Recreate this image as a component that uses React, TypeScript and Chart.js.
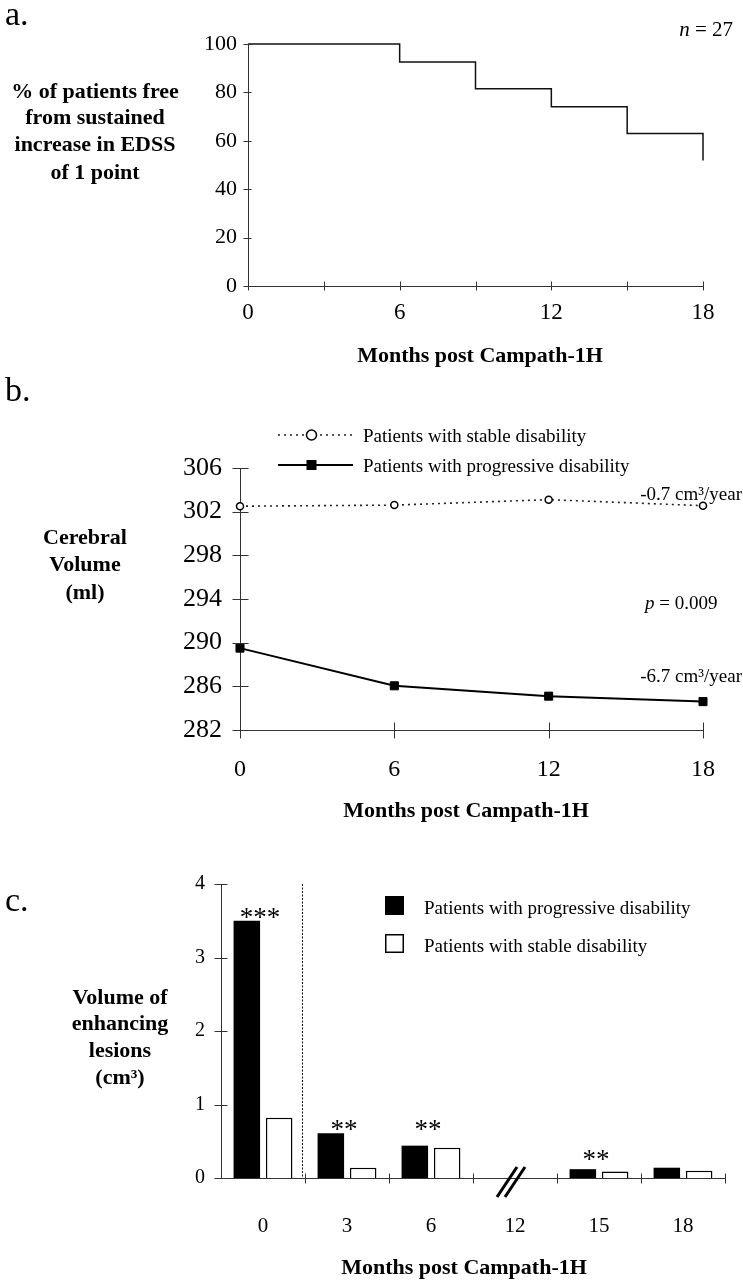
import React, { useEffect, useRef } from 'react';
import { Chart, registerables } from 'chart.js';

Chart.register(...registerables);

const SERIF = '"Liberation Serif", "Times New Roman", Times, serif';

// ---------- Panel a: Kaplan-Meier (% free from sustained EDSS increase) ----------
const kmMonths = [0, 6, 9, 12, 15, 18];
const kmPercentFree = [100, 92.6, 81.5, 74.1, 63.0, 51.9];
const kmYTicks = [0, 20, 40, 60, 80, 100];
const kmXTickStep = 3;
const kmXLabelStep = 6;

// ---------- Panel b: cerebral volume ----------
const volMonths = [0, 6, 12, 18];
const stableVolume = [302.5, 302.6, 303.1, 302.55];
const progressiveVolume = [289.5, 286.05, 285.1, 284.6];
const volYTicks = [282, 286, 290, 294, 298, 302, 306];
const volXTicks = [0, 6, 12, 18];

// ---------- Panel c: volume of enhancing lesions ----------
const lesionMonths = ['0', '3', '6', '12', '15', '18'];
const progressiveLesion = [3.5, 0.61, 0.44, null, 0.12, 0.14];
const stableLesion = [0.82, 0.14, 0.41, null, 0.09, 0.1];
const lesionStars = ['***', '**', '**', '', '**', ''];
const lesionStarLevels = [3.62, 0.74, 0.74, null, 0.33, null];
const lesionYTicks = [0, 1, 2, 3, 4];
const breakMonth = '12';

const AXIS = '#333';

// Tick marks that cross the axis lines
const crossTicks = {
  id: 'crossTicks',
  afterDraw(chart: any, _a: any, opts: any) {
    const { ctx, chartArea } = chart;
    const x = chart.scales.x;
    const y = chart.scales.y;
    ctx.save();
    ctx.strokeStyle = opts.color || AXIS;
    ctx.lineWidth = 1;
    const ax = Math.round(chartArea.left) + 0.5;
    const ay = Math.round(chartArea.bottom) + 0.5;
    ctx.beginPath();
    y.ticks.forEach((_t: any, i: number) => {
      const py = Math.round(y.getPixelForTick(i)) + 0.5;
      ctx.moveTo(ax - opts.yOut, py);
      ctx.lineTo(ax + opts.yIn, py);
    });
    if (opts.categoryBoundaries) {
      const n = x.ticks.length;
      for (let i = 1; i <= n; i++) {
        const px = Math.round(x.left + (i * x.width) / n) + 0.5;
        ctx.moveTo(px, ay - opts.xIn);
        ctx.lineTo(px, ay + opts.xOut);
      }
    } else {
      x.ticks.forEach((_t: any, i: number) => {
        const px = Math.round(x.getPixelForTick(i)) + 0.5;
        ctx.moveTo(px, ay - opts.xIn);
        ctx.lineTo(px, ay + opts.xOut);
      });
    }
    ctx.stroke();
    ctx.restore();
  },
};

// Legend for panel b (line + marker samples)
const lineLegend = {
  id: 'lineLegend',
  afterDraw(chart: any, _a: any, opts: any) {
    const { ctx } = chart;
    ctx.save();
    chart.data.datasets.forEach((ds: any, i: number) => {
      const item = opts.items[i];
      const yy = item.y;
      ctx.beginPath();
      ctx.strokeStyle = ds.borderColor;
      ctx.lineWidth = ds.borderWidth;
      ctx.setLineDash(ds.borderDash || []);
      ctx.moveTo(opts.x0, yy);
      ctx.lineTo(opts.x1, yy);
      ctx.stroke();
      ctx.setLineDash([]);
      const mx = (opts.x0 + opts.x1) / 2 - 4;
      ctx.fillStyle = ds.pointBackgroundColor;
      ctx.strokeStyle = ds.pointBorderColor;
      ctx.lineWidth = ds.pointBorderWidth;
      if (ds.pointStyle === 'rect') {
        ctx.fillRect(mx - 5, yy - 5, 10, 10);
      } else {
        ctx.beginPath();
        ctx.arc(mx, yy, 5, 0, Math.PI * 2);
        ctx.fill();
        ctx.stroke();
      }
    });
    ctx.restore();
  },
};

// Extras for panel c: divider, axis break, stars, legend squares
const barExtras = {
  id: 'barExtras',
  afterDraw(chart: any, _a: any, opts: any) {
    const { ctx, chartArea } = chart;
    const x = chart.scales.x;
    const y = chart.scales.y;
    const n = x.ticks.length;
    const step = x.width / n;
    ctx.save();
    // dotted divider after baseline category
    const dx = Math.round(x.left + step) - 2.5;
    ctx.strokeStyle = '#111';
    ctx.lineWidth = 1;
    ctx.setLineDash([2, 1.5]);
    ctx.beginPath();
    ctx.moveTo(dx, chartArea.top);
    ctx.lineTo(dx, chartArea.bottom);
    ctx.stroke();
    ctx.setLineDash([]);
    // axis break
    const bi = lesionMonths.indexOf(breakMonth);
    const bx = x.getPixelForValue(bi) - 4;
    const by = chartArea.bottom + 4;
    ctx.lineWidth = 3;
    ctx.strokeStyle = '#000';
    [-4, 4].forEach((off) => {
      ctx.beginPath();
      ctx.moveTo(bx + off - 10, by + 15);
      ctx.lineTo(bx + off + 10, by - 15);
      ctx.stroke();
    });
    // significance stars
    ctx.fillStyle = '#000';
    ctx.font = `27px ${SERIF}`;
    ctx.textAlign = 'center';
    ctx.textBaseline = 'middle';
    lesionStars.forEach((s, i) => {
      const lv = lesionStarLevels[i];
      if (!s || lv == null) return;
      const px = x.getPixelForValue(i) - 3;
      const py = y.getPixelForValue(lv) + 7;
      ctx.fillText(s, px, py);
    });
    // legend squares
    chart.data.datasets.forEach((ds: any, i: number) => {
      const it = opts.items[i];
      ctx.fillStyle = ds.backgroundColor;
      ctx.fillRect(it.x, it.y, 19, 19);
      ctx.strokeStyle = ds.borderColor;
      ctx.lineWidth = 1.5;
      ctx.strokeRect(it.x + 0.75, it.y + 0.75, 17.5, 17.5);
    });
    ctx.restore();
  },
};

function kmConfig(): any {
  return {
    type: 'line',
    data: {
      datasets: [
        {
          data: kmMonths.map((m, i) => ({ x: m, y: kmPercentFree[i] })),
          stepped: 'before',
          borderColor: '#111',
          borderWidth: 1.5,
          pointRadius: 0,
          fill: false,
          clip: false,
        },
      ],
    },
    options: {
      responsive: false,
      animation: false,
      events: [],
      layout: { padding: { left: 0, right: 40, top: 44, bottom: 0 } },
      plugins: {
        legend: { display: false },
        tooltip: { enabled: false },
        crossTicks: { yOut: 5, yIn: 3, xOut: 4, xIn: 5 },
      },
      scales: {
        x: {
          type: 'linear',
          min: 0,
          max: 18,
          afterFit: (s: any) => { s.height = 114; },
          grid: { display: false, drawTicks: false },
          border: { display: true, color: AXIS, width: 1 },
          ticks: {
            stepSize: kmXTickStep,
            padding: 13,
            color: '#000',
            maxRotation: 0,
            font: { family: SERIF, size: 23 },
            callback: (v: number) => (v % kmXLabelStep === 0 ? String(v) : ''),
          },
        },
        y: {
          min: kmYTicks[0],
          max: kmYTicks[kmYTicks.length - 1],
          afterFit: (s: any) => { s.width = 248; },
          afterBuildTicks: (s: any) => { s.ticks = kmYTicks.map((v) => ({ value: v })); },
          grid: { display: false, drawTicks: false },
          border: { display: true, color: AXIS, width: 1 },
          ticks: { padding: 11, color: '#000', font: { family: SERIF, size: 22 } },
        },
      },
    },
    plugins: [crossTicks],
  };
}

function volConfig(): any {
  return {
    type: 'line',
    data: {
      datasets: [
        {
          label: 'Patients with stable disability',
          data: volMonths.map((m, i) => ({ x: m, y: stableVolume[i] })),
          borderColor: '#222',
          borderWidth: 1.6,
          borderDash: [2, 4],
          pointStyle: 'circle',
          pointRadius: 3.5,
          pointBackgroundColor: '#fff',
          pointBorderColor: '#000',
          pointBorderWidth: 1.5,
          tension: 0,
          clip: false,
        },
        {
          label: 'Patients with progressive disability',
          data: volMonths.map((m, i) => ({ x: m, y: progressiveVolume[i] })),
          borderColor: '#000',
          borderWidth: 2,
          pointStyle: 'rect',
          pointRadius: 5.7,
          pointBackgroundColor: '#000',
          pointBorderColor: '#000',
          pointBorderWidth: 1,
          tension: 0,
          clip: false,
        },
      ],
    },
    options: {
      responsive: false,
      animation: false,
      events: [],
      layout: { padding: { left: 0, right: 40, top: 68, bottom: 0 } },
      plugins: {
        legend: { display: false },
        tooltip: { enabled: false },
        crossTicks: { yOut: 8, yIn: 8, xOut: 8, xIn: 8 },
        lineLegend: { x0: 278, x1: 353, items: [{ y: 35 }, { y: 65 }] },
      },
      scales: {
        x: {
          type: 'linear',
          min: 0,
          max: 18,
          afterFit: (s: any) => { s.height = 90; },
          afterBuildTicks: (s: any) => { s.ticks = volXTicks.map((v) => ({ value: v })); },
          grid: { display: false, drawTicks: false },
          border: { display: true, color: AXIS, width: 1 },
          ticks: { padding: 25, color: '#000', maxRotation: 0, font: { family: SERIF, size: 24 } },
        },
        y: {
          min: volYTicks[0],
          max: volYTicks[volYTicks.length - 1],
          afterFit: (s: any) => { s.width = 240; },
          afterBuildTicks: (s: any) => { s.ticks = volYTicks.map((v) => ({ value: v })); },
          grid: { display: false, drawTicks: false },
          border: { display: true, color: AXIS, width: 1 },
          ticks: { padding: 18, color: '#000', font: { family: SERIF, size: 26 } },
        },
      },
    },
    plugins: [crossTicks, lineLegend],
  };
}

function lesionConfig(): any {
  return {
    type: 'bar',
    data: {
      labels: lesionMonths,
      datasets: [
        {
          label: 'Patients with progressive disability',
          data: progressiveLesion,
          backgroundColor: '#000',
          borderColor: '#000',
          borderWidth: 0,
          categoryPercentage: 0.77,
          barPercentage: 0.82,
        },
        {
          label: 'Patients with stable disability',
          data: stableLesion,
          backgroundColor: '#fff',
          borderColor: '#000',
          borderWidth: 1.5,
          categoryPercentage: 0.77,
          barPercentage: 0.82,
        },
      ],
    },
    options: {
      responsive: false,
      animation: false,
      events: [],
      layout: { padding: { left: 0, right: 18, top: 64, bottom: 0 } },
      plugins: {
        legend: { display: false },
        tooltip: { enabled: false },
        crossTicks: { yOut: 7, yIn: 6, xOut: 5, xIn: 5, categoryBoundaries: true },
        barExtras: { items: [{ x: 385, y: 76 }, { x: 385, y: 114 }] },
      },
      scales: {
        x: {
          afterFit: (s: any) => { s.height = 103; },
          grid: { display: false, drawTicks: false },
          border: { display: true, color: AXIS, width: 1 },
          ticks: { padding: 36, color: '#000', maxRotation: 0, font: { family: SERIF, size: 21 } },
        },
        y: {
          min: lesionYTicks[0],
          max: lesionYTicks[lesionYTicks.length - 1],
          afterFit: (s: any) => { s.width = 221; },
          afterBuildTicks: (s: any) => { s.ticks = lesionYTicks.map((v) => ({ value: v })); },
          grid: { display: false, drawTicks: false },
          border: { display: true, color: AXIS, width: 1 },
          ticks: { padding: 16, color: '#000', font: { family: SERIF, size: 20 } },
        },
      },
    },
    plugins: [crossTicks, barExtras],
  };
}

function ChartBox({ makeConfig, top, height }: { makeConfig: () => any; top: number; height: number }) {
  const ref = useRef<HTMLCanvasElement | null>(null);
  useEffect(() => {
    const chart = new Chart(ref.current as HTMLCanvasElement, makeConfig());
    return () => chart.destroy();
  }, []);
  return (
    <canvas
      ref={ref}
      width={743}
      height={height}
      style={{ position: 'absolute', left: 0, top, width: 743, height }}
    />
  );
}

function T({ x, y, align = 'center', size = 19, bold = false, children }: any) {
  const tx = align === 'center' ? '-50%' : align === 'right' ? '-100%' : '0';
  return (
    <div
      style={{
        position: 'absolute',
        left: x,
        top: y,
        transform: `translate(${tx}, -50%)`,
        fontFamily: SERIF,
        fontSize: size,
        fontWeight: bold ? 'bold' : 'normal',
        lineHeight: 1,
        whiteSpace: 'nowrap',
        color: '#000',
        textAlign: align,
      }}
    >
      {children}
    </div>
  );
}

export default function App() {
  return (
    <div style={{ position: 'absolute', left: 0, top: 0, width: 743, height: 1281, background: '#fff', overflow: 'hidden' }}>
      <ChartBox makeConfig={kmConfig} top={0} height={400} />
      <ChartBox makeConfig={volConfig} top={400} height={420} />
      <ChartBox makeConfig={lesionConfig} top={820} height={461} />

      {/* Panel a */}
      <T x={5} y={14} align="left" size={34}>a.</T>
      <T x={733} y={29} align="right" size={21}><i>n</i> = 27</T>
      <T x={95} y={91} bold size={22}>% of patients free</T>
      <T x={95} y={117} bold size={22}>from sustained</T>
      <T x={95} y={144} bold size={22}>increase in EDSS</T>
      <T x={95} y={172} bold size={22}>of 1 point</T>
      <T x={480} y={355} bold size={22}>Months post Campath-1H</T>

      {/* Panel b */}
      <T x={5} y={390} align="left" size={34}>b.</T>
      <T x={363} y={435} align="left" size={19}>Patients with stable disability</T>
      <T x={363} y={465} align="left" size={19}>Patients with progressive disability</T>
      <T x={85} y={537} bold size={22}>Cerebral</T>
      <T x={85} y={564} bold size={22}>Volume</T>
      <T x={85} y={592} bold size={22}>(ml)</T>
      <T x={742} y={493} align="right" size={19}>-0.7 cm³/year</T>
      <T x={645} y={602} align="left" size={19}><i>p</i> = 0.009</T>
      <T x={742} y={675} align="right" size={19}>-6.7 cm³/year</T>
      <T x={466} y={810} bold size={22}>Months post Campath-1H</T>

      {/* Panel c */}
      <T x={5} y={900} align="left" size={34}>c.</T>
      <T x={424} y={907} align="left" size={19}>Patients with progressive disability</T>
      <T x={424} y={945} align="left" size={19}>Patients with stable disability</T>
      <T x={120} y={997} bold size={22}>Volume of</T>
      <T x={120} y={1023} bold size={22}>enhancing</T>
      <T x={120} y={1050} bold size={22}>lesions</T>
      <T x={120} y={1077} bold size={22}>(cm³)</T>
      <T x={464} y={1267} bold size={22}>Months post Campath-1H</T>
    </div>
  );
}
